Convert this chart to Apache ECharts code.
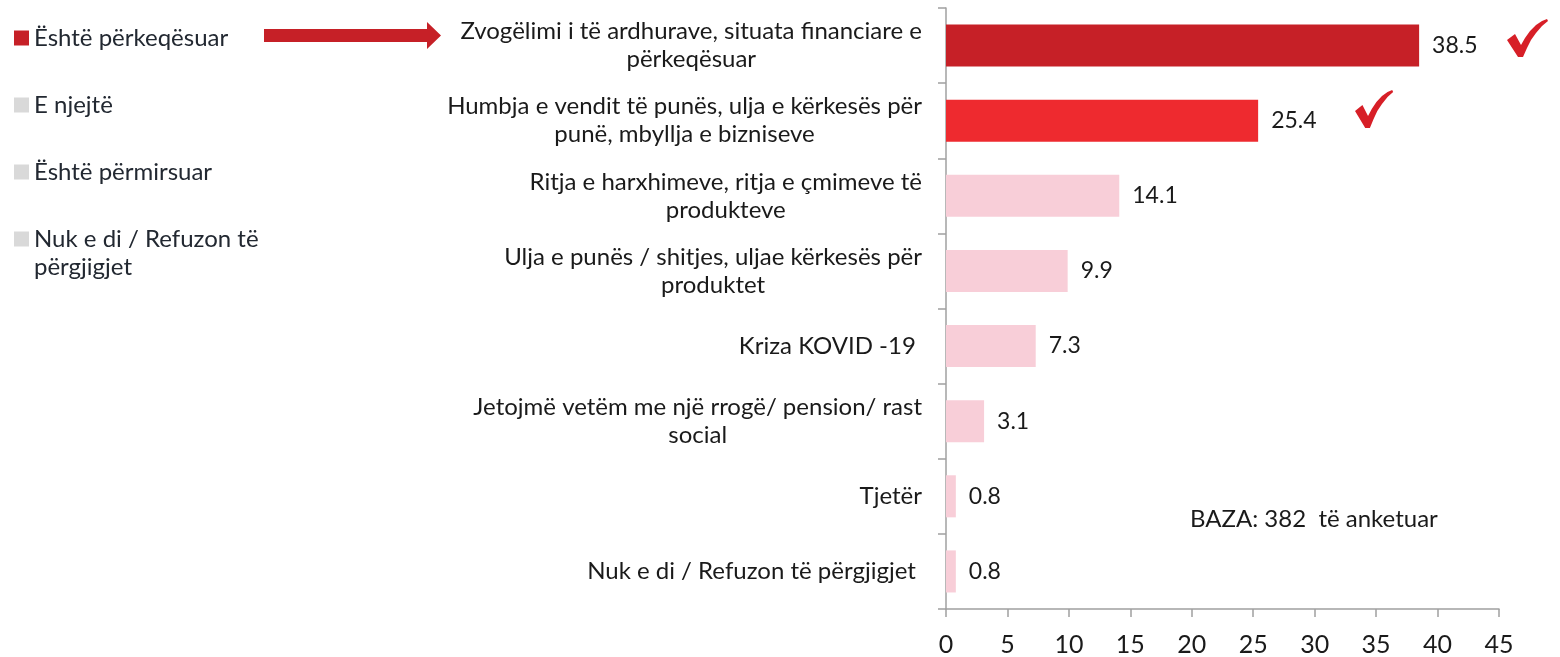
<!DOCTYPE html>
<html>
<head>
<meta charset="utf-8">
<script src="https://cdn.jsdelivr.net/npm/echarts@6/dist/echarts.min.js"></script>
<style>
  html, body { margin: 0; padding: 0; background: #fff; }
  #chart { width: 1560px; height: 657px; }
</style>
</head>
<body>
<div id="chart"></div>
<script>
var categories = [
    'Zvogëlimi i të ardhurave, situata financiare e\npërkeqësuar',
    'Humbja e vendit të punës, ulja e kërkesës për\npunë, mbyllja e bizniseve',
    'Ritja e harxhimeve, ritja e çmimeve të\nprodukteve',
    'Ulja e punës / shitjes, uljae kërkesës për\nproduktet',
    'Kriza KOVID -19 ',
    'Jetojmë vetëm me një rrogë/ pension/ rast\nsocial',
    'Tjetër',
    'Nuk e di / Refuzon të përgjigjet '
];
var values = [38.5, 25.4, 14.1, 9.9, 7.3, 3.1, 0.8, 0.8];
var barColors = ['#c62027', '#ee2a2f', '#f8ced8', '#f8ced8', '#f8ced8', '#f8ced8', '#f8ced8', '#f8ced8'];
var legendNames = ['Është përkeqësuar', 'E njejtë', 'Është përmirsuar', 'Nuk e di / Refuzon të\npërgjigjet'];
var legendColors = ['#c62027', '#d9d9d9', '#d9d9d9', '#d9d9d9'];

var font = 'Lato';
var chart = echarts.init(document.getElementById('chart'));

// checkmark outline, about 41x38
var checkPts = [[0, 21], [8, 15], [14, 26], [18, 19], [23, 12], [29, 6], [35, 2], [40, 0], [41, 2],
    [35, 7], [29, 14], [24, 21], [20, 29], [16, 38], [11, 38]];

var series = [{
    name: 'main',
    type: 'bar',
    stack: 'all',
    barCategoryGap: '44%',
    data: values.map(function (v, i) {
        return { value: v, itemStyle: { color: barColors[i] } };
    }),
    label: {
        show: true,
        position: 'right',
        distance: 13,
        fontFamily: font,
        fontSize: 23,
        color: '#1a1a1a'
    }
}];
legendNames.forEach(function (n, i) {
    series.push({ name: n, type: 'bar', stack: 'all', data: [], itemStyle: { color: legendColors[i] } });
});

var option = {
    animation: false,
    backgroundColor: '#fff',
    grid: { left: 946, right: 61, top: 8, bottom: 45 },
    legend: {
        orient: 'vertical',
        left: 14,
        top: -2,
        padding: 0,
        icon: 'rect',
        itemWidth: 15,
        itemHeight: 15,
        itemGap: -13,
        selectedMode: false,
        data: legendNames,
        // first line sits on the marker, a second line hangs below it
        formatter: function (name) {
            var lines = name.split('\n');
            return '{e| }\n{t|' + lines[0] + '}\n' + (lines[1] ? '{t|' + lines[1] + '}' : '{e| }');
        },
        textStyle: {
            rich: {
                e: { fontFamily: font, fontSize: 24, lineHeight: 28 },
                t: { fontFamily: font, fontSize: 24, lineHeight: 28, color: '#222831' }
            }
        }
    },
    xAxis: {
        type: 'value',
        min: 0,
        max: 45,
        interval: 5,
        splitLine: { show: false },
        axisLine: { show: true, lineStyle: { color: '#a0a0a0', width: 1.5 } },
        axisTick: { show: true, length: 8, lineStyle: { color: '#a0a0a0', width: 1.5 } },
        axisLabel: { fontFamily: font, fontSize: 25, color: '#1a1a1a', margin: 23 }
    },
    yAxis: {
        type: 'category',
        inverse: true,
        data: categories,
        axisLine: { show: true, lineStyle: { color: '#a0a0a0', width: 1.5 } },
        axisTick: { show: true, length: 8, lineStyle: { color: '#a0a0a0', width: 1.5 } },
        axisLabel: {
            margin: 24,
            formatter: function (v) {
                return v.split('\n').map(function (s) { return '{c|' + s + '}'; }).join('\n');
            },
            rich: {
                c: { align: 'center', fontFamily: font, fontSize: 24, lineHeight: 28, color: '#1a1a1a' }
            }
        }
    },
    graphic: [
        {
            type: 'polygon',
            shape: { points: [[264, 29], [427, 29], [427, 22], [441, 35.5], [427, 49], [427, 42], [264, 42]] },
            style: { fill: '#c62027' }
        },
        {
            type: 'polygon',
            x: 1507, y: 19,
            shape: { points: checkPts },
            style: { fill: '#d71f27' }
        },
        {
            type: 'polygon',
            x: 1355, y: 90,
            scaleX: 0.93,
            shape: { points: checkPts },
            style: { fill: '#d71f27' }
        },
        {
            type: 'text',
            left: 1190,
            top: 507,
            style: { text: 'BAZA: 382  të anketuar', fontFamily: font, fontSize: 24, fill: '#1a1a1a' }
        }
    ],
    series: series
};
chart.setOption(option);
</script>
</body>
</html>
